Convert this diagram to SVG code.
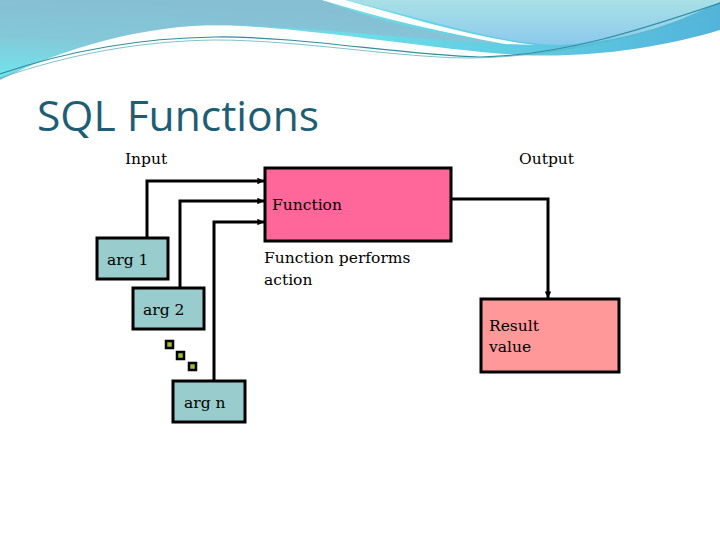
<svg xmlns="http://www.w3.org/2000/svg" width="720" height="540" viewBox="0 0 720 540">
<defs>
<linearGradient id="gBand" x1="0" y1="1" x2="0.3" y2="0">
<stop offset="0" stop-color="#6FE6EE"/>
<stop offset="0.5" stop-color="#84C8D8"/>
<stop offset="1" stop-color="#86BED4"/>
</linearGradient>
<linearGradient id="gRight" x1="0" y1="0" x2="0" y2="1">
<stop offset="0" stop-color="#A9E0E6"/>
<stop offset="1" stop-color="#8BC9EC"/>
</linearGradient>
<linearGradient id="gLow" x1="0" y1="0" x2="1" y2="0">
<stop offset="0" stop-color="#7CC3D8"/>
<stop offset="0.5" stop-color="#6BDDE8"/>
<stop offset="1" stop-color="#52B4DA"/>
</linearGradient>
<marker id="arr" viewBox="0 0 6 6" refX="6" refY="3" markerWidth="2.2" markerHeight="2.2" orient="auto">
<path d="M0,0 L6,3 L0,6 Z" fill="#000"/>
</marker>
<style>
.box{stroke:#000;stroke-width:3}
.lbl{font-family:"DejaVu Serif","Liberation Serif",serif;font-size:15.5px;fill:#000}
.con{fill:none;stroke:#000;stroke-width:3;marker-end:url(#arr)}
.dot{fill:#9CBF2A;stroke:#000;stroke-width:2.5}
</style>
</defs>
<rect width="720" height="540" fill="#FFFFFF"/>
<g id="header">
<path d="M0,0 H720 V30 C660,48 590,58 520,55 C430,50 300,25 205,25 C130,25 60,50 0,80 Z" fill="url(#gLow)"/>
<path d="M0,0 H322 C360,15 420,32 505,44 C420,40 320,28 230,25 C140,24 70,48 0,78 Z" fill="url(#gBand)"/>
<path d="M345,0 H720 V2 C680,20 640,40 560,45 C500,44 440,22 345,0 Z" fill="url(#gRight)"/>
<path d="M322,0 H345 C405,16 465,36 535,45 L505,44 C440,32 380,18 322,0 Z" fill="#FFFFFF"/>
<path d="M0,74 C70,50 140,38 215,37 C300,36 400,55 480,57 C560,56 640,30 720,3" fill="none" stroke="#2E8FA0" stroke-width="1.2"/>
<path d="M0,78 C70,54 140,41 215,40 C300,40 400,58 470,58 C560,57 640,35 720,10" fill="none" stroke="#5FB3C0" stroke-width="0.8"/>
</g>
<text id="title" x="37" y="131" font-family="'Open Sans','Liberation Sans',sans-serif" font-size="42" fill="#1E5E74" textLength="282" lengthAdjust="spacingAndGlyphs">SQL Functions</text>
<text class="lbl" x="125" y="164">Input</text>
<text class="lbl" x="519" y="164">Output</text>
<g id="connectors">
<polyline class="con" points="147,238 147,181 264,181"/>
<polyline class="con" points="180,288 180,201 264,201"/>
<polyline class="con" points="214,381 214,222 264,222"/>
<polyline class="con" points="451,199 548,199 548,298"/>
</g>
<g id="function">
<rect class="box" x="265" y="168" width="186" height="73" fill="#FF6699"/>
<text class="lbl" x="272" y="210">Function</text>
</g>
<text class="lbl" x="264" y="263">Function performs</text>
<text class="lbl" x="264" y="285">action</text>
<g id="arg1">
<rect class="box" x="97" y="238" width="71" height="41" fill="#99CCCC"/>
<text class="lbl" x="107" y="265">arg 1</text>
</g>
<g id="arg2">
<rect class="box" x="133" y="288" width="71" height="41" fill="#99CCCC"/>
<text class="lbl" x="143" y="315">arg 2</text>
</g>
<g id="ellipsis">
<rect class="dot" x="166" y="341" width="7" height="7"/>
<rect class="dot" x="177" y="352" width="7" height="7"/>
<rect class="dot" x="189" y="363" width="7" height="7"/>
</g>
<g id="argn">
<rect class="box" x="173" y="381" width="72" height="41" fill="#99CCCC"/>
<text class="lbl" x="184" y="408">arg n</text>
</g>
<g id="result">
<rect class="box" x="481" y="299" width="138" height="73" fill="#FF9999"/>
<text class="lbl" x="489" y="331">Result</text>
<text class="lbl" x="489" y="352">value</text>
</g>
</svg>
